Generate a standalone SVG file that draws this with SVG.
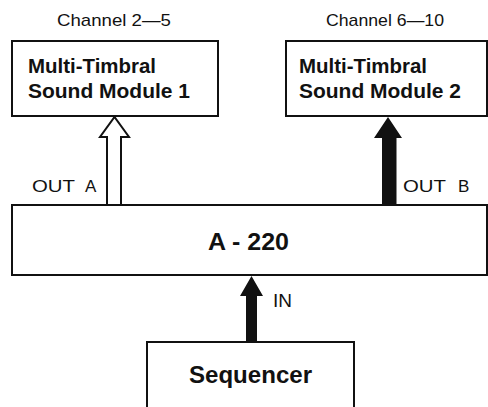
<svg xmlns="http://www.w3.org/2000/svg" width="488" height="407" viewBox="0 0 488 407">
<style>
.box{fill:#fff;stroke:#111;stroke-width:2}
.lbl{font-family:"Liberation Sans",Arial,sans-serif;fill:#111}
.b{font-weight:bold}
.s{font-size:17px}
.ch{font-size:17px}
.m{font-size:21px}
</style>
<rect width="488" height="407" fill="#fff"/>
<g id="connectors">
<path d="M107,205 V137 H100 L114.5,117 L129,137 H121 V205" fill="#fff" stroke="#111" stroke-width="2" stroke-linejoin="miter"/>
<path d="M382,205 V138 H374 L388,117 L402,138 H396.5 V205 Z" fill="#111"/>
<path d="M246,342 V296 H240 L251.5,276 L263,296 H257 V342 Z" fill="#111"/>
<text class="lbl s" x="32" y="192" textLength="43" lengthAdjust="spacingAndGlyphs">OUT</text>
<text class="lbl s" x="85" y="192">A</text>
<text class="lbl s" x="403" y="192" textLength="43" lengthAdjust="spacingAndGlyphs">OUT</text>
<text class="lbl s" x="458" y="192">B</text>
<text class="lbl" x="273" y="307" font-size="19">IN</text>
</g>
<g id="module1">
<text class="lbl ch" x="57" y="26" textLength="114" lengthAdjust="spacingAndGlyphs">Channel 2—5</text>
<rect class="box" x="12" y="41" width="206" height="75"/>
<text class="lbl b m" x="28" y="73" textLength="128" lengthAdjust="spacingAndGlyphs">Multi-Timbral</text>
<text class="lbl b m" x="28" y="98" textLength="162" lengthAdjust="spacingAndGlyphs">Sound Module 1</text>
</g>
<g id="module2">
<text class="lbl ch" x="326" y="26" textLength="118" lengthAdjust="spacingAndGlyphs">Channel 6—10</text>
<rect class="box" x="286" y="41" width="201" height="75"/>
<text class="lbl b m" x="299" y="73" textLength="128" lengthAdjust="spacingAndGlyphs">Multi-Timbral</text>
<text class="lbl b m" x="299" y="98" textLength="162" lengthAdjust="spacingAndGlyphs">Sound Module 2</text>
</g>
<g id="a220">
<rect class="box" x="12" y="205" width="475" height="70"/>
<text class="lbl b" x="208" y="250" font-size="23" textLength="81" lengthAdjust="spacingAndGlyphs">A - 220</text>
</g>
<g id="sequencer">
<rect class="box" x="147" y="342" width="207" height="70"/>
<text class="lbl b" x="189" y="383" font-size="23" textLength="123" lengthAdjust="spacingAndGlyphs">Sequencer</text>
</g>
</svg>
